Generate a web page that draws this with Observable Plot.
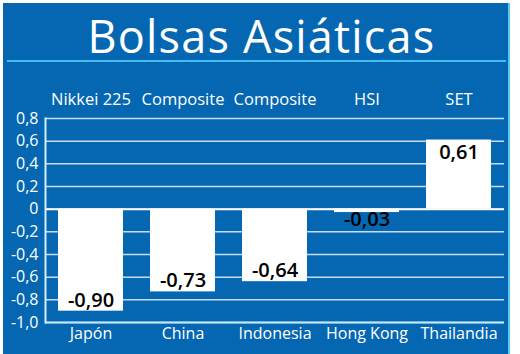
<!DOCTYPE html>
<html>
<head>
<meta charset="utf-8">
<script src="https://cdn.jsdelivr.net/npm/d3@7"></script>
<script src="https://cdn.jsdelivr.net/npm/@observablehq/plot@0.6"></script>
<style>
  html, body { margin: 0; padding: 0; background: #ffffff; }
  #card { position: absolute; left: 3px; top: 3px; width: 505px; height: 351px; background: #0567b1; border-right: 2px solid #5ac8f0; overflow: hidden; }
  #title { position: absolute; top: 11px; left: 6px; width: 100%; text-align: center; color: #ffffff; font-family: "Open Sans", sans-serif; font-size: 45px; font-weight: 500; letter-spacing: 1.2px; line-height: 44px; }
  #rule { position: absolute; left: 4px; top: 57px; width: 499px; height: 2px; background: #41bdf0; }
  #chart { position: absolute; left: 0; top: 77px; }
</style>
</head>
<body>
<div id="card">
  <div id="title">Bolsas Asiáticas</div>
  <div id="rule"></div>
  <div id="chart"></div>
</div>
<script>
const countries = ["Japón", "China", "Indonesia", "Hong Kong", "Thailandia"];
const indices = ["Nikkei 225", "Composite", "Composite", "HSI", "SET"];
const values = [-0.90, -0.73, -0.64, -0.03, 0.61];
const yTicks = [0.8, 0.6, 0.4, 0.2, 0, -0.2, -0.4, -0.6, -0.8, -1.0];

const data = countries.map((c, i) => ({country: c, index: indices[i], value: values[i]}));
const indexOf = new Map(data.map(d => [d.country, d.index]));
const fmt = v => v === 0 ? "0" : v.toFixed(2).replace(".", ",");
const fmtTick = v => v === 0 ? "0" : v.toFixed(1).replace(".", ",");

const chart = Plot.plot({
  width: 505,
  height: 274,
  marginLeft: 42,
  marginRight: 4,
  marginTop: 38,
  marginBottom: 32,
  style: {background: "transparent", color: "#ffffff", fontFamily: "'Open Sans', sans-serif", overflow: "visible"},
  x: {domain: countries, paddingInner: 0.29, paddingOuter: 0.13, axis: null},
  y: {domain: [-1.0, 0.8], axis: null},
  marks: [
    Plot.gridY(yTicks, {stroke: "#c8dcef", strokeOpacity: 1, strokeWidth: 1.5}),
    Plot.barY(data, {x: "country", y: "value", fill: "#ffffff", inset: 0}),
    Plot.ruleY([0], {stroke: "#ffffff", strokeWidth: 2}),
    Plot.ruleY([-1.0], {stroke: "#bfe8f8", strokeWidth: 2}),
    Plot.frame({anchor: "left", stroke: "#d6eefa", strokeWidth: 2}),
    Plot.axisY(yTicks, {tickSize: 0, tickPadding: 7, tickFormat: fmtTick, fontSize: 16, fill: "#ffffff", label: null}),
    Plot.axisX({anchor: "bottom", tickSize: 0, tickPadding: 5, fontSize: 16, fill: "#ffffff", label: null}),
    Plot.axisX({anchor: "top", tickSize: 0, tickPadding: 14, tickFormat: d => indexOf.get(d), fontSize: 16.5, fill: "#ffffff", label: null}),
    Plot.text(data.filter(d => d.value <= -0.1), {x: "country", y: "value", text: d => fmt(d.value), dy: -11, fontSize: 20, fontWeight: 600, fill: "#000000", lineAnchor: "middle"}),
    Plot.text(data.filter(d => d.value >= 0.1), {x: "country", y: "value", text: d => fmt(d.value), dy: 13, fontSize: 20, fontWeight: 600, fill: "#000000", lineAnchor: "middle"}),
    Plot.text(data.filter(d => Math.abs(d.value) < 0.1), {x: "country", y: "value", text: d => fmt(d.value), dy: 7, fontSize: 20, fontWeight: 600, fill: "#000000", lineAnchor: "middle"})
  ]
});
document.getElementById("chart").appendChild(chart);
</script>
</body>
</html>
